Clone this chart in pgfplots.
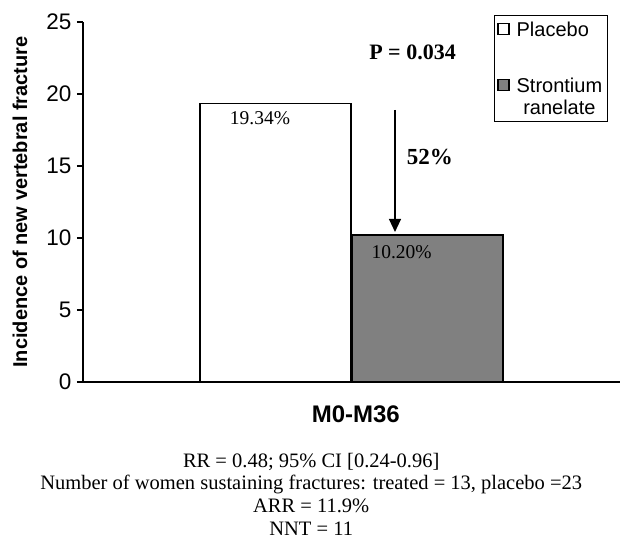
\documentclass[border=0pt]{standalone}
\usepackage{fontspec}
\setmainfont{Liberation Serif}
\setsansfont{Liberation Sans}
\usepackage{pgfplots}
\pgfplotsset{compat=1.18}
\usetikzlibrary{arrows.meta}
\begin{document}
\begin{tikzpicture}
\path[use as bounding box] (-83pt,-160pt) rectangle (537pt,382pt);
\begin{axis}[
  at={(0pt,0pt)}, anchor=south west,
  scale only axis, width=537pt, height=360pt,
  xmin=0, xmax=1, ymin=0, ymax=25,
  axis x line=bottom, axis y line=left,
  axis line style={-, line width=1.2pt},
  xtick=\empty, ytick={0,5,10,15,20,25},
  tick align=outside, major tick length=6pt,
  tick style={line width=1.2pt, black},
  /pgf/number format/assume math mode=true,
  yticklabel style={font=\sffamily\fontsize{22.5}{26}\selectfont, xshift=-2pt},
  ylabel={Incidence of new vertebral fracture},
  every axis y label/.style={at={(axis description cs:0,0.5)}, xshift=-63pt, rotate=90, anchor=center, font=\sffamily\bfseries\fontsize{20}{24}\selectfont},
  xlabel={M0-M36},
  every axis x label/.style={at={(axis description cs:0.508,0)}, yshift=-32pt, anchor=center, font=\sffamily\bfseries\fontsize{24}{28}\selectfont},
  clip=false,
  legend cell align=left,
  legend style={at={(axis description cs:0.765,1)}, anchor=north west, yshift=7pt,
    draw=black, line width=1.2pt, fill=white,
    font=\sffamily\fontsize{20}{22}\selectfont,
    nodes={align=center, inner sep=2pt},
    row sep=36pt, column sep=5pt, inner xsep=3pt, inner ysep=4pt},
]
\addplot[ybar, bar shift=0pt, bar width=0.2812, fill=white, draw=black, line width=1.3pt,
  legend image code/.code={\draw[fill=white, draw=black, line width=1.2pt] (0pt,-5pt) rectangle (11pt,6pt);}]
  coordinates {(0.3585,19.34)};
\addlegendentry{Placebo}
\addplot[ybar, bar shift=0pt, bar width=0.2812, fill=black!50, draw=black, line width=1.3pt,
  legend image code/.code={\draw[fill=black!50, draw=black, line width=1.2pt] (0pt,6pt) rectangle (11pt,17pt);}]
  coordinates {(0.6415,10.20)};
\addlegendentry{Strontium\\ranelate}

\node[font=\bfseries\fontsize{22}{24}\selectfont] at (axis cs:0.6136,22.9) {P = 0.034};
\node[font=\bfseries\fontsize{23}{24}\selectfont] at (axis cs:0.646,15.6) {52\%};
\node[font=\fontsize{19.5}{22}\selectfont] at (axis cs:0.3296,18.33) {19.34\%};
\node[font=\fontsize{19.5}{22}\selectfont] at (axis cs:0.5933,9.05) {10.20\%};
\draw[line width=1.2pt, -{Triangle[width=12pt,length=13pt]}] (axis cs:0.581,18.89) -- (axis cs:0.581,10.42);
\node[align=center, font=\fontsize{20.5}{22.7}\selectfont] at (axis description cs:0.425,0) [yshift=-112pt]
  {RR = 0.48; 95\% CI [0.24-0.96]\\Number of women sustaining fractures: treated = 13, placebo =23\\ARR = 11.9\%\\NNT = 11};
\end{axis}
\end{tikzpicture}
\end{document}
